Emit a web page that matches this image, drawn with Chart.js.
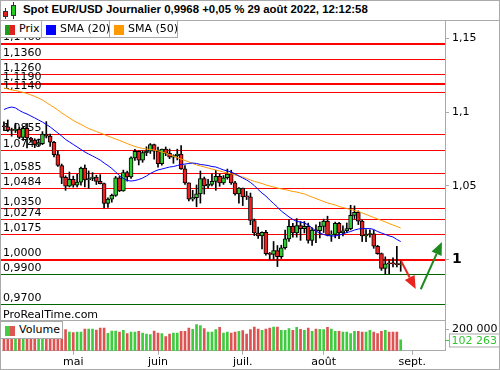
<!DOCTYPE html>
<html><head><meta charset="utf-8">
<script src="https://cdn.jsdelivr.net/npm/chart.js@4.4.0/dist/chart.umd.min.js"></script>
<style>
body{margin:0;background:#fff;}
#wrap{position:relative;width:500px;height:370px;overflow:hidden;background:#fff;font-family:"DejaVu Sans",sans-serif;}
.abs{position:absolute;}
#frame{left:0;top:0;width:500px;height:370px;box-sizing:border-box;border:1px solid #aaa;pointer-events:none;z-index:20;}
#title{left:0;top:0;width:500px;height:21px;box-sizing:border-box;border-bottom:1px solid #aaa;z-index:5;background:#fff;}
#ttext{left:23px;top:3px;font:bold 11.4px "Liberation Sans",Arial,sans-serif;color:#000;white-space:nowrap;}
.lg{box-sizing:border-box;border:1px solid #aaa;background:#fff;height:18px;z-index:6;font-size:11px;color:#000;}
.lg .sw{position:absolute;left:4px;top:4px;width:10px;height:10px;}
.lg .tx{position:absolute;left:18px;top:1px;white-space:nowrap;line-height:14px;}
#pricebox{left:0;top:21px;width:500px;height:300px;}
#volbox{left:0;top:321px;width:500px;height:49px;}
#sep{left:0;top:320px;width:445px;height:1px;background:#aaa;z-index:4;}
#prt{left:3px;top:308px;font-size:11px;line-height:13px;color:#000;z-index:4;white-space:nowrap;}
</style></head><body>
<div id="wrap">
  <div id="pricebox" class="abs"><canvas id="price" width="500" height="300"></canvas></div>
  <div id="volbox" class="abs"><canvas id="vol" width="500" height="49"></canvas></div>
  <div id="sep" class="abs"></div>
  <div id="prt" class="abs">ProRealTime.com</div>
  <div id="title" class="abs">
    <div class="abs" style="left:5px;top:8px;width:1px;height:11px;background:#333"></div>
    <div class="abs" style="left:3px;top:11px;width:5px;height:6px;background:#e02020;border:1px solid #333;box-sizing:border-box"></div>
    <div class="abs" style="left:13px;top:2px;width:1px;height:17px;background:#333"></div>
    <div class="abs" style="left:11px;top:5px;width:5px;height:11px;background:#22cc22;border:1px solid #333;box-sizing:border-box"></div>
    <div id="ttext" class="abs">Spot EUR/USD Journalier 0,9968 +0,05 % 29 août 2022, 12:12:58</div>
  </div>
  <div class="abs lg" style="left:0;top:20px;width:42px;"><div class="sw" style="background:linear-gradient(90deg,#1a9e1a 50%,#e02020 50%)"></div><div class="tx">Prix</div></div>
  <div class="abs lg" style="left:41px;top:20px;width:69px;"><div class="sw" style="background:#0000ff"></div><div class="tx">SMA (20)</div></div>
  <div class="abs lg" style="left:109px;top:20px;width:69px;"><div class="sw" style="background:#ff9900"></div><div class="tx">SMA (50)</div></div>
  <div class="abs lg" style="left:0;top:321px;width:63px;"><div class="sw" style="background:linear-gradient(90deg,#44cc44 50%,#dd5555 50%)"></div><div class="tx">Volume</div></div>
  <div id="frame" class="abs"></div>
</div>
<script>
// ---------- DATA ----------
const firstDay = [2022, 3, 6];      // 6 avril 2022 (first trading day shown)
const slotCount = 115;              // trading-day slots on the axis (incl. empty future days)
const monthNames = ['janv.','févr.','mars','avr.','mai','juin','juil.','août','sept.','oct.','nov.','déc.'];

const opens  = [1.0902,1.0901,1.0878,1.0876,1.0885,1.0828,1.0890,1.0825,1.0810,1.0782,1.0787,1.0852,1.0838,1.0796,1.0712,1.0638,1.0557,1.0497,
1.0544,1.0505,1.0525,1.0620,1.0540,1.0550,1.0560,1.0530,1.0515,1.0380,1.0410,1.0435,1.0555,1.0465,1.0590,1.0560,1.0690,1.0735,1.0675,1.0725,1.0735,1.0780,
1.0735,1.0650,1.0750,1.0720,1.0695,1.0705,1.0715,1.0615,1.0520,1.0410,1.0420,1.0445,1.0550,1.0500,1.0510,1.0530,1.0565,1.0520,1.0555,1.0580,1.0520,1.0445,
1.0485,1.0425,1.0425,1.0265,1.0180,1.0160,1.0185,1.0040,1.0035,1.0060,1.0020,1.0080,1.0140,1.0225,1.0180,1.0230,1.0210,1.0225,1.0130,1.0200,1.0195,
1.0225,1.0260,1.0165,1.0170,1.0245,1.0180,1.0195,1.0210,1.0300,1.0320,1.0260,1.0160,1.0170,1.0175,1.0090,1.0040,0.9940,0.9970,0.9970,0.9970,0.9965];
const highs  = [1.0935,1.0947,1.0892,1.0925,1.0897,1.0900,1.0925,1.0830,1.0820,1.0818,1.0868,1.0936,1.0852,1.0802,1.0740,1.0648,1.0568,1.0594,
1.0566,1.0578,1.0627,1.0642,1.0601,1.0590,1.0572,1.0576,1.0519,1.0418,1.0444,1.0564,1.0564,1.0607,1.0600,1.0697,1.0748,1.0737,1.0738,1.0765,1.0787,1.0783,
1.0764,1.0750,1.0764,1.0750,1.0711,1.0749,1.0774,1.0637,1.0520,1.0470,1.0506,1.0601,1.0560,1.0545,1.0582,1.0605,1.0580,1.0570,1.0614,1.0606,1.0530,1.0488,
1.0485,1.0462,1.0451,1.0275,1.0220,1.0187,1.0198,1.0048,1.0122,1.0095,1.0097,1.0200,1.0269,1.0245,1.0278,1.0257,1.0258,1.0247,1.0215,1.0235,1.0254,
1.0274,1.0294,1.0195,1.0254,1.0253,1.0229,1.0248,1.0368,1.0364,1.0330,1.0267,1.0203,1.0202,1.0199,1.0096,1.0044,1.0018,0.9999,1.0011,1.0090,0.9990];
const lows   = [1.0874,1.0869,1.0837,1.0862,1.0820,1.0808,1.0758,1.0797,1.0760,1.0770,1.0780,1.0825,1.0768,1.0697,1.0632,1.0515,1.0470,1.0493,
1.0491,1.0493,1.0505,1.0493,1.0483,1.0535,1.0509,1.0513,1.0350,1.0354,1.0389,1.0428,1.0461,1.0463,1.0532,1.0550,1.0673,1.0642,1.0660,1.0705,1.0720,1.0681,
1.0627,1.0640,1.0705,1.0685,1.0653,1.0676,1.0612,1.0509,1.0398,1.0397,1.0358,1.0383,1.0444,1.0485,1.0500,1.0470,1.0497,1.0510,1.0545,1.0510,1.0437,1.0382,
1.0366,1.0407,1.0236,1.0162,1.0143,1.0072,1.0029,0.9998,0.9998,0.9952,1.0007,1.0070,1.0123,1.0152,1.0152,1.0130,1.0180,1.0111,1.0096,1.0114,1.0146,
1.0183,1.0160,1.0123,1.0147,1.0141,1.0160,1.0182,1.0201,1.0278,1.0237,1.0122,1.0121,1.0151,1.0076,1.0035,0.9926,0.9900,0.9903,0.9950,0.9950,0.9920];
const closes = [1.0901,1.0878,1.0876,1.0885,1.0828,1.0890,1.0825,1.0810,1.0782,1.0787,1.0852,1.0838,1.0796,1.0712,1.0638,1.0557,1.0497,1.0544,
1.0505,1.0525,1.0620,1.0540,1.0550,1.0560,1.0530,1.0515,1.0380,1.0410,1.0435,1.0555,1.0465,1.0590,1.0560,1.0690,1.0735,1.0675,1.0725,1.0735,1.0780,1.0735,
1.0650,1.0750,1.0720,1.0695,1.0705,1.0715,1.0615,1.0520,1.0410,1.0420,1.0445,1.0550,1.0500,1.0510,1.0530,1.0565,1.0520,1.0555,1.0580,1.0520,1.0445,1.0485,
1.0425,1.0425,1.0265,1.0180,1.0160,1.0185,1.0040,1.0035,1.0060,1.0020,1.0080,1.0140,1.0225,1.0180,1.0230,1.0210,1.0225,1.0130,1.0200,1.0195,1.0225,
1.0260,1.0165,1.0170,1.0245,1.0180,1.0195,1.0210,1.0300,1.0320,1.0260,1.0160,1.0170,1.0175,1.0090,1.0040,0.9940,0.9970,0.9970,0.9970,0.9965,0.9968];
const sma20 = [1.1018,1.1029,1.1035,1.1029,1.1012,1.0998,1.0988,1.0974,1.0961,1.0947,1.0933,1.0917,1.0900,1.0879,1.0859,1.0838,1.0815,1.0798,
1.0781,1.0764,1.0747,1.0730,1.0716,1.0703,1.0689,1.0675,1.0655,1.0638,1.0618,1.0594,1.0570,1.0550,1.0536,1.0533,1.0536,1.0543,1.0553,1.0567,1.0584,1.0597,
1.0608,1.0614,1.0621,1.0628,1.0631,1.0638,1.0645,1.0648,1.0652,1.0655,1.0652,1.0645,1.0642,1.0638,1.0631,1.0628,1.0618,1.0608,1.0601,1.0594,1.0581,1.0567,
1.0553,1.0540,1.0523,1.0502,1.0475,1.0451,1.0431,1.0404,1.0380,1.0356,1.0329,1.0309,1.0289,1.0272,1.0258,1.0255,1.0248,1.0234,1.0214,1.0193,1.0180,
1.0170,1.0163,1.0160,1.0160,1.0166,1.0173,1.0183,1.0190,1.0200,1.0207,1.0210,1.0210,1.0210,1.0204,1.0190,1.0180,1.0170,1.0160,1.0153,1.0136,1.0122];
const sma50 = [1.1164,1.1158,1.1151,1.1147,1.1141,1.1134,1.1127,1.1117,1.1107,1.1096,1.1083,1.1066,1.1049,1.1032,1.1015,1.0995,1.0978,1.0961,
1.0944,1.0930,1.0917,1.0903,1.0889,1.0879,1.0869,1.0859,1.0849,1.0838,1.0828,1.0818,1.0808,1.0798,1.0787,1.0777,1.0767,1.0760,1.0754,1.0750,1.0747,1.0743,
1.0737,1.0730,1.0723,1.0713,1.0703,1.0692,1.0682,1.0672,1.0662,1.0652,1.0642,1.0635,1.0628,1.0621,1.0614,1.0608,1.0601,1.0594,1.0587,1.0581,1.0574,1.0567,
1.0560,1.0550,1.0540,1.0530,1.0523,1.0516,1.0506,1.0499,1.0492,1.0485,1.0479,1.0475,1.0468,1.0462,1.0458,1.0451,1.0445,1.0434,1.0424,1.0414,1.0404,
1.0394,1.0384,1.0377,1.0370,1.0360,1.0353,1.0346,1.0339,1.0333,1.0326,1.0316,1.0306,1.0295,1.0285,1.0275,1.0265,1.0255,1.0244,1.0234,1.0224,1.0214];
const volumes = [185000,190000,178000,182000,195000,188000,200000,176000,183000,172000,190000,196000,185000,205000,210000,215000,197000,175000,
169000,175000,175000,203000,203000,203000,193000,212000,212000,162000,184000,184000,175000,190000,159000,175000,175000,181000,165000,156000,150000,184000,
165000,159000,131000,156000,165000,165000,181000,181000,212000,200000,243000,234000,206000,175000,175000,197000,218000,165000,175000,165000,175000,181000,
187000,156000,197000,221000,203000,190000,203000,212000,221000,221000,190000,190000,206000,190000,218000,200000,190000,212000,181000,203000,200000,
197000,218000,203000,181000,181000,175000,175000,159000,181000,181000,175000,175000,190000,175000,159000,181000,190000,175000,175000,175000,102263];

const levels = [1.1460,1.1360,1.1260,1.1190,1.1140,1.0855,1.0746,1.0585,1.0484,1.0350,1.0274,1.0175,1.0000,0.9900,0.9700];
const priceTicks = [1.15, 1.1, 1.05, 1];
const volumeTicks = [200000];
const lastVolume = 102263;
const arrows = [ {from:[103.1, 0.9990], to:[106.9, 0.9800]}, {from:[108.2, 0.9798], to:[113.7, 1.0119]} ];

// ---------- categories (trading days) ----------
const categories = [];
{ const d = new Date(Date.UTC(firstDay[0], firstDay[1], firstDay[2]));
  while (categories.length < slotCount) {
    const wd = d.getUTCDay();
    if (wd !== 0 && wd !== 6) categories.push(d.toISOString().slice(0,10));
    d.setUTCDate(d.getUTCDate() + 1);
  } }
function monthLabel(i){
  if (i <= 0) return null;
  const m = +categories[i].slice(5,7), pm = +categories[i-1].slice(5,7);
  return m !== pm ? monthNames[m-1] : null;
}

// ---------- styles ----------
const UP = '#2fcc2f', DOWN = '#ee2020', VUP = '#3ecb3e', VDOWN = '#de5252';
const thickLevels = [1.1460, 1.1190, 1.0000];
const fmt4 = v => v.toFixed(4).replace('.', ',');
const isUp = i => closes[i] > opens[i];
const noPad = ax => { ax.paddingTop = 0; ax.paddingBottom = 0; ax.paddingLeft = 0; ax.paddingRight = 0; };
Chart.defaults.font.family = '"DejaVu Sans", sans-serif';
Chart.defaults.color = '#000';

const levelPlugin = {
  id: 'levels',
  beforeDatasetsDraw(chart){
    const {ctx, chartArea:a, scales:{y}} = chart;
    ctx.save();
    levels.forEach(v => {
      const thick = thickLevels.includes(v);
      const yy = thick ? Math.round(y.getPixelForValue(v)) : Math.round(y.getPixelForValue(v)) + 0.5;
      ctx.strokeStyle = v < 1 ? '#006400' : '#ff0000';
      ctx.lineWidth = thick ? 2 : 1;
      ctx.beginPath(); ctx.moveTo(0, yy); ctx.lineTo(a.right, yy); ctx.stroke();
      ctx.fillStyle = '#000'; ctx.font = '11px "DejaVu Sans"'; ctx.textBaseline = 'alphabetic'; ctx.textAlign = 'left';
      ctx.fillText(fmt4(v), 3, yy - 4);
    });
    ctx.restore();
  },
  afterDatasetsDraw(chart){
    const {ctx, scales:{x, y}} = chart;
    const cols = ['#e8251f', '#1c8a1c'];
    ctx.save();
    arrows.forEach((ar, k) => {
      const x1 = x.getPixelForValue(ar.from[0]), y1 = y.getPixelForValue(ar.from[1]);
      const x2 = x.getPixelForValue(ar.to[0]), y2 = y.getPixelForValue(ar.to[1]);
      const ang = Math.atan2(y2 - y1, x2 - x1), hl = 13, hw = 11;
      const bx = x2 - hl * Math.cos(ang), by = y2 - hl * Math.sin(ang);
      ctx.strokeStyle = cols[k]; ctx.fillStyle = cols[k]; ctx.lineWidth = 2;
      ctx.beginPath(); ctx.moveTo(x1, y1); ctx.lineTo(bx, by); ctx.stroke();
      ctx.beginPath(); ctx.moveTo(x2, y2);
      ctx.lineTo(bx + hw/2 * Math.sin(ang), by - hw/2 * Math.cos(ang));
      ctx.lineTo(bx - hw/2 * Math.sin(ang), by + hw/2 * Math.cos(ang));
      ctx.closePath(); ctx.fill();
    });
    ctx.restore();
  }
};

new Chart(document.getElementById('price'), {
  data: {
    labels: categories,
    datasets: [
      { type:'bar', data: lows.map((l,i) => [l, highs[i]]), backgroundColor:'#000', barThickness:1, grouped:false, order:4 },
      { type:'bar', data: opens.map((o,i) => [o, closes[i]]), backgroundColor: opens.map((o,i) => isUp(i) ? UP : DOWN),
        borderColor:'#000', borderWidth:1, borderSkipped:false, barThickness:4, minBarLength:1, grouped:false, order:3 },
      { type:'line', data: sma50, borderColor:'#ff9900', borderWidth:1, pointRadius:0, tension:0, order:2 },
      { type:'line', data: sma20, borderColor:'#0000ff', borderWidth:1, pointRadius:0, tension:0, order:1 }
    ]
  },
  options: {
    responsive:false, animation:false, events:[],
    layout:{ padding:{ left:2, right:0, top:0, bottom:0 } },
    plugins:{ legend:{display:false}, tooltip:{enabled:false} },
    scales:{
      x:{ type:'category', display:false, offset:true, afterFit: noPad },
      y:{ position:'right', min:0.95825, max:1.16191,
          afterFit(ax){ ax.width = 55; noPad(ax); },
          afterBuildTicks(ax){ ax.ticks = priceTicks.map(v => ({value:v})); },
          ticks:{ padding:3, color:'#000', callback: v => String(v).replace('.', ','),
                  font: c => (c.tick && c.tick.value === 1) ? {size:14, weight:'bold'} : {size:11} },
          grid:{ drawOnChartArea:false, drawTicks:true, tickLength:4, color:'#aaa' },
          border:{ display:true, color:'#aaa' } }
    }
  },
  plugins:[levelPlugin]
});

const volLabelPlugin = {
  id:'vollabel',
  afterDraw(chart){
    const {ctx, chartArea:a, scales:{y}} = chart;
    const yy = Math.round(y.getPixelForValue(lastVolume)) + 0.5;
    ctx.save();
    ctx.strokeStyle = VUP; ctx.lineWidth = 1;
    ctx.beginPath(); ctx.moveTo(a.right, yy); ctx.lineTo(a.right + 4, yy); ctx.stroke();
    ctx.fillStyle = '#fff'; ctx.fillRect(449.5, yy - 6.5, 50, 13);
    ctx.strokeStyle = '#aaa'; ctx.strokeRect(449.5, yy - 6.5, 50, 13);
    ctx.fillStyle = '#33c433'; ctx.font = '11px "DejaVu Sans"'; ctx.textBaseline = 'middle'; ctx.textAlign = 'left';
    ctx.fillText(lastVolume.toLocaleString('fr-FR').replace(/\s/g, ' '), 451.5, yy + 0.5);
    ctx.restore();
  }
};

new Chart(document.getElementById('vol'), {
  type:'bar',
  data:{ labels: categories,
    datasets:[{ data: volumes, backgroundColor: volumes.map((v,i) => isUp(i) ? VUP : VDOWN), barThickness:2 }] },
  options:{
    responsive:false, animation:false, events:[],
    layout:{ padding:{ left:2, right:0, top:0, bottom:0 } },
    plugins:{ legend:{display:false}, tooltip:{enabled:false} },
    scales:{
      x:{ type:'category', offset:true,
          afterFit(ax){ ax.height = 19.3; noPad(ax); },
          ticks:{ autoSkip:false, maxRotation:0, padding:1, font:{size:11}, color:'#000',
                  callback:(v, i) => monthLabel(i) },
          grid:{ drawOnChartArea:false, drawTicks:true, tickLength:4, color:'#aaa', offset:false },
          border:{ display:true, color:'#aaa' } },
      y:{ position:'right', min:0, max:277500,
          afterFit(ax){ ax.width = 55; noPad(ax); },
          afterBuildTicks(ax){ ax.ticks = volumeTicks.map(v => ({value:v})); },
          ticks:{ padding:3, font:{size:11}, color:'#000', callback: v => v.toLocaleString('fr-FR').replace(/\s/g, ' ') },
          grid:{ drawOnChartArea:false, drawTicks:true, tickLength:4, color:'#aaa' },
          border:{ display:true, color:'#aaa' } }
    }
  },
  plugins:[volLabelPlugin]
});
</script>
</body></html>
